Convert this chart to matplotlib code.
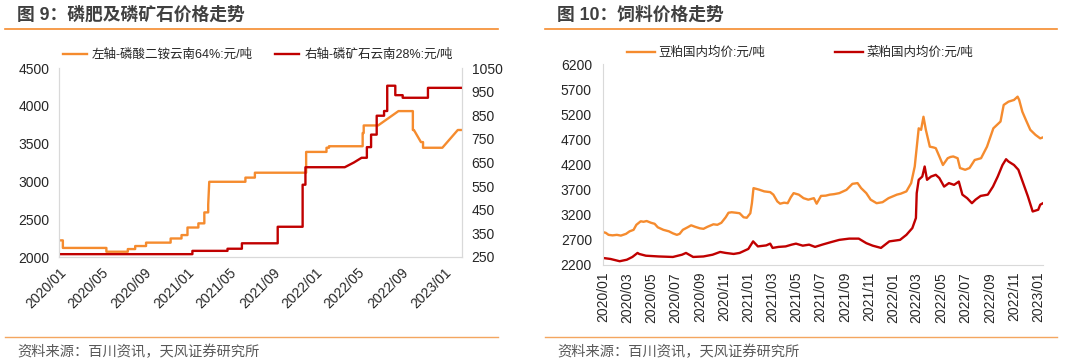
import matplotlib
matplotlib.use("Agg")
import matplotlib.pyplot as plt
from matplotlib.lines import Line2D
import pandas as pd

plt.rcParams['font.family'] = ['Liberation Sans', 'Noto Sans CJK SC', 'DejaVu Sans']

# ---------------- data: chart 9 (left) ----------------
dap_dates = ["2020-01-01", "2020-01-12", "2020-01-12", "2020-05-15", "2020-05-15", "2020-07-15",
             "2020-07-15", "2020-08-05", "2020-08-05", "2020-09-05", "2020-09-05", "2020-11-14",
             "2020-11-14", "2020-12-15", "2020-12-15", "2021-01-01", "2021-01-01", "2021-02-01",
             "2021-02-01", "2021-02-18", "2021-02-18", "2021-03-01", "2021-03-01", "2021-03-04",
             "2021-06-15", "2021-06-15", "2021-07-12", "2021-07-12", "2021-12-05", "2021-12-05",
             "2022-02-01", "2022-02-01", "2022-02-08", "2022-02-08", "2022-05-15", "2022-05-15",
             "2022-05-18", "2022-05-18", "2022-06-28", "2022-08-25", "2022-10-05", "2022-10-05",
             "2022-10-08", "2022-10-28", "2022-11-03", "2022-11-03", "2022-12-28", "2023-02-10",
             "2023-02-20"]
dap_values = [2220, 2220, 2120, 2120, 2070, 2070,
              2105, 2105, 2145, 2145, 2190, 2190,
              2245, 2245, 2290, 2290, 2390, 2390,
              2445, 2445, 2590, 2590, 2690, 2995,
              2995, 3050, 3050, 3115, 3115, 3390,
              3390, 3445, 3445, 3465, 3465, 3640,
              3640, 3740, 3740, 3930, 3930, 3680,
              3680, 3520, 3520, 3445, 3445, 3680,
              3680]

rock_dates = ["2020-01-01", "2021-01-15", "2021-01-15", "2021-04-25", "2021-04-25", "2021-06-05",
              "2021-06-05", "2021-09-15", "2021-09-15", "2021-11-25", "2021-11-25", "2021-12-03",
              "2021-12-03", "2022-03-25", "2022-04-20", "2022-05-12", "2022-05-27", "2022-05-27",
              "2022-06-08", "2022-06-08", "2022-06-24", "2022-06-24", "2022-07-15", "2022-07-15",
              "2022-07-24", "2022-07-24", "2022-08-16", "2022-08-16", "2022-09-06", "2022-09-06",
              "2022-11-17", "2022-11-17", "2023-02-20"]
rock_values = [262, 262, 276, 276, 285, 285,
               308, 308, 378, 378, 556, 556,
               630, 630, 650, 670, 670, 715,
               715, 768, 768, 848, 848, 868,
               868, 975, 975, 935, 935, 924,
               924, 966, 966]

# ---------------- data: chart 10 (right) ----------------
soy_dates = ["2020-01-01", "2020-01-08", "2020-01-15", "2020-01-25", "2020-02-05", "2020-02-15",
             "2020-02-28", "2020-03-08", "2020-03-18", "2020-03-25", "2020-04-05", "2020-04-12",
             "2020-04-20", "2020-05-01", "2020-05-10", "2020-05-18", "2020-06-01", "2020-06-15",
             "2020-06-25", "2020-07-05", "2020-07-12", "2020-07-20", "2020-08-01", "2020-08-10",
             "2020-08-20", "2020-09-01", "2020-09-10", "2020-09-20", "2020-10-05", "2020-10-15",
             "2020-10-25", "2020-11-05", "2020-11-12", "2020-11-20", "2020-12-01", "2020-12-10",
             "2020-12-20", "2020-12-28", "2021-01-06", "2021-01-10", "2021-01-14", "2021-01-28",
             "2021-02-10", "2021-02-25", "2021-03-05", "2021-03-15", "2021-03-22", "2021-04-01",
             "2021-04-10", "2021-04-18", "2021-04-25", "2021-05-08", "2021-05-20", "2021-06-01",
             "2021-06-15", "2021-06-22", "2021-07-03", "2021-07-15", "2021-07-25", "2021-08-05",
             "2021-08-18", "2021-09-05", "2021-09-20", "2021-10-03", "2021-10-12", "2021-10-25",
             "2021-11-05", "2021-11-20", "2021-12-05", "2021-12-20", "2022-01-10", "2022-01-20",
             "2022-02-03", "2022-02-15", "2022-02-24", "2022-03-06", "2022-03-12", "2022-03-18",
             "2022-03-24", "2022-04-03", "2022-04-12", "2022-04-18", "2022-04-27", "2022-05-06",
             "2022-05-18", "2022-05-25", "2022-06-01", "2022-06-12", "2022-06-18", "2022-07-01",
             "2022-07-12", "2022-07-25", "2022-08-10", "2022-08-25", "2022-09-10", "2022-09-28",
             "2022-10-06", "2022-10-18", "2022-11-01", "2022-11-10", "2022-11-14", "2022-11-22",
             "2022-12-01", "2022-12-12", "2022-12-25", "2023-01-06", "2023-01-13"]
soy_values = [2855, 2840, 2800, 2790, 2800, 2785,
              2820, 2870, 2900, 3000, 3070, 3060,
              3075, 3040, 3020, 2950, 2900, 2870,
              2830, 2800, 2820, 2900, 2950, 2990,
              2960, 2930, 2920, 2960, 3010, 3000,
              3040, 3150, 3240, 3250, 3240, 3230,
              3150, 3140, 3230, 3430, 3730, 3700,
              3665, 3650, 3600, 3465, 3420, 3440,
              3430, 3550, 3630, 3600, 3530, 3500,
              3530, 3420, 3575, 3580, 3600, 3610,
              3630, 3695, 3815, 3830, 3730, 3630,
              3500, 3430, 3450, 3530, 3600, 3620,
              3665, 3830, 4160, 4920, 4890, 5150,
              4890, 4555, 4540, 4525, 4360, 4190,
              4325, 4350, 4360, 4325, 4130, 4095,
              4130, 4290, 4325, 4555, 4920, 5055,
              5385, 5450, 5485, 5550, 5485, 5250,
              5085, 4890, 4790, 4720, 4740]

rape_dates = ["2020-01-01", "2020-01-20", "2020-02-12", "2020-03-01", "2020-03-15", "2020-03-28",
              "2020-04-01", "2020-04-18", "2020-05-20", "2020-06-25", "2020-07-18", "2020-07-28",
              "2020-08-15", "2020-09-10", "2020-10-03", "2020-10-22", "2020-11-05", "2020-11-25",
              "2020-12-10", "2021-01-01", "2021-01-13", "2021-01-25", "2021-02-15", "2021-02-25",
              "2021-03-03", "2021-03-18", "2021-04-05", "2021-04-20", "2021-05-01", "2021-05-18",
              "2021-06-03", "2021-06-18", "2021-07-06", "2021-07-28", "2021-08-18", "2021-09-12",
              "2021-10-06", "2021-10-25", "2021-11-10", "2021-12-01", "2021-12-22", "2022-01-18",
              "2022-02-03", "2022-02-18", "2022-02-27", "2022-03-01", "2022-03-06", "2022-03-15",
              "2022-03-21", "2022-03-27", "2022-04-06", "2022-04-18", "2022-04-27", "2022-05-09",
              "2022-05-21", "2022-06-03", "2022-06-15", "2022-06-24", "2022-07-06", "2022-07-18",
              "2022-07-27", "2022-08-09", "2022-08-27", "2022-09-09", "2022-09-21", "2022-10-03",
              "2022-10-12", "2022-10-18", "2022-11-01", "2022-11-12", "2022-11-24", "2022-12-06",
              "2022-12-18", "2023-01-01", "2023-01-06", "2023-01-13"]
rape_values = [2340, 2320, 2275, 2305, 2360, 2440,
               2420, 2385, 2370, 2360, 2405, 2440,
               2360, 2370, 2405, 2460, 2440, 2420,
               2440, 2520, 2670, 2570, 2590, 2625,
               2540, 2560, 2570, 2605, 2625, 2585,
               2605, 2560, 2605, 2655, 2700, 2725,
               2725, 2635, 2585, 2540, 2670, 2700,
               2800, 2935, 3135, 3630, 3895, 3960,
               4160, 3895, 3960, 3995, 3930, 3760,
               3830, 3795, 3860, 3600, 3530, 3430,
               3500, 3575, 3600, 3760, 3960, 4190,
               4305, 4260, 4190, 4095, 3830, 3565,
               3265, 3300, 3400, 3430]

left_yticks = [2000, 2500, 3000, 3500, 4000, 4500]
right_yticks = [250, 350, 450, 550, 650, 750, 850, 950, 1050]
feed_yticks = [2200, 2700, 3200, 3700, 4200, 4700, 5200, 5700, 6200]

ORANGE = "#F58B2E"
RED = "#C00000"
SPINE = "#D9D9D9"
TXT = "#262626"

W, H = 1080, 364
fig = plt.figure(figsize=(W / 100, H / 100), dpi=100)


def fx(px):
    return px / W


def fy(py):
    return 1 - py / H


# ---- headers / footers ----
for x0, x1, tx, title in [(5, 498, 17, "图 9：磷肥及磷矿石价格走势"),
                          (545, 1057, 557, "图 10：饲料价格走势")]:
    fig.text(fx(tx), fy(15), title, fontsize=12.8, fontweight='bold', color="#404040",
             va='center', ha='left')
    fig.add_artist(Line2D([fx(x0), fx(x1)], [fy(29), fy(29)], color=ORANGE, lw=1.2))
    fig.add_artist(Line2D([fx(x0), fx(x1)], [fy(337), fy(337)], color="#F4A660", lw=1.0))
    fig.text(fx(tx), fy(352), "资料来源：百川资讯，天风证券研究所", fontsize=10.3, color="#595959",
             va='center', ha='left')

# ---- left chart ----
ax1 = fig.add_axes([fx(59), fy(257), fx(403), 189 / H])
ax2 = ax1.twinx()
l1, = ax1.plot(pd.to_datetime(dap_dates), dap_values, color=ORANGE, lw=1.7,
               label="左轴-磷酸二铵云南64%:元/吨")
l2, = ax2.plot(pd.to_datetime(rock_dates), rock_values, color=RED, lw=1.7,
               label="右轴-磷矿石云南28%:元/吨")
ax1.set_ylim(2000, 4500)
ax1.set_yticks(left_yticks)
ax2.set_ylim(250, 1050)
ax2.set_yticks(right_yticks)
ax1.set_xlim(pd.Timestamp("2020-01-01"), pd.Timestamp("2023-02-22"))
xt = pd.date_range("2020-01-01", "2023-01-01", freq="4MS")
ax1.set_xticks(xt)
ax1.set_xticklabels([d.strftime("%Y/%m") for d in xt], rotation=45, ha='right',
                    rotation_mode='anchor')
for a in (ax1, ax2):
    for s in a.spines.values():
        s.set_color(SPINE)
    a.spines['top'].set_visible(False)
    a.tick_params(length=0, labelsize=10, colors=TXT, pad=7)
ax1.tick_params(axis='x', pad=6)
ax1.legend(handles=[l1, l2], ncol=2, loc='center left', bbox_to_anchor=(fx(63), fy(55)),
           bbox_transform=fig.transFigure, frameon=False, fontsize=9, handlelength=1.9,
           handletextpad=0.4, columnspacing=1.8, borderpad=0, borderaxespad=0,
           labelcolor=TXT)

# ---- right chart ----
ax3 = fig.add_axes([fx(603), fy(265), fx(440), 201 / H])
l3, = ax3.plot(pd.to_datetime(soy_dates), soy_values, color=ORANGE, lw=1.7,
               label="豆粕国内均价:元/吨")
l4, = ax3.plot(pd.to_datetime(rape_dates), rape_values, color=RED, lw=1.7,
               label="菜粕国内均价:元/吨")
ax3.set_ylim(2200, 6200)
ax3.set_yticks(feed_yticks)
ax3.set_xlim(pd.Timestamp("2020-01-01"), pd.Timestamp("2023-01-13"))
xt2 = pd.date_range("2020-01-01", "2023-01-01", freq="2MS")
ax3.set_xticks(xt2)
ax3.set_xticklabels([d.strftime("%Y/%m") for d in xt2], rotation=90, ha='center', va='top')
for k in ('top', 'right'):
    ax3.spines[k].set_visible(False)
for k in ('left', 'bottom'):
    ax3.spines[k].set_color(SPINE)
ax3.tick_params(length=0, labelsize=10, colors=TXT, pad=8)
ax3.tick_params(axis='x', pad=5)
ax3.legend(handles=[l3, l4], ncol=2, loc='center left', bbox_to_anchor=(fx(627), fy(53)),
           bbox_transform=fig.transFigure, frameon=False, fontsize=9, handlelength=2.2,
           handletextpad=0.3, columnspacing=5.6, borderpad=0, borderaxespad=0,
           labelcolor=TXT)

fig.savefig("out.png", dpi=100)
